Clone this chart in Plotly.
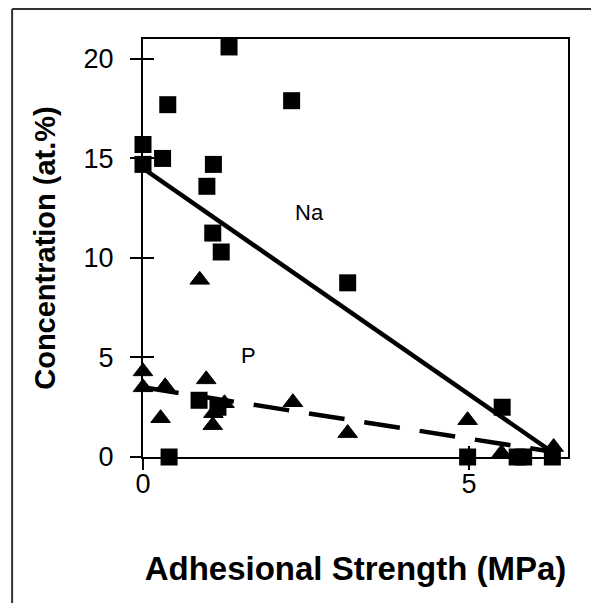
import plotly.graph_objects as go

# Sodium concentration (squares) vs adhesional strength
na_x = [0.0, 0.0, 0.30, 0.38, 0.40, 0.86, 0.98, 1.07, 1.08, 1.15, 1.20, 1.32, 2.28, 3.14,
        4.98, 5.51, 5.74, 5.84, 6.28]
na_y = [15.7, 14.7, 15.0, 17.7, 0.0, 2.85, 13.6, 11.25, 14.7, 2.5, 10.3, 20.6, 17.9, 8.75,
        0.0, 2.5, 0.0, 0.0, 0.0]

# Phosphorus concentration (triangles) vs adhesional strength
p_x = [0.0, 0.0, 0.27, 0.34, 0.87, 0.97, 1.07, 1.08, 1.25, 2.30, 3.14, 4.98, 5.50, 6.30]
p_y = [4.3, 3.5, 1.95, 3.55, 8.9, 3.9, 1.6, 2.2, 2.7, 2.75, 1.2, 1.85, 0.2, 0.5]

# Linear trend lines
na_fit_x = [0.0, 6.3]
na_fit_y = [14.5, 0.2]
p_fit_x = [0.0, 6.3]
p_fit_y = [3.5, 0.25]

x_ticks = [0, 5]
y_ticks = [0, 5, 10, 15, 20]

X_RANGE = [0, 6.52]
Y_RANGE = [0, 21]

FONT = "Liberation Sans, Arial, sans-serif"

fig = go.Figure()

fig.add_trace(go.Scatter(
    x=na_fit_x, y=na_fit_y, mode="lines",
    line=dict(color="black", width=4.5), showlegend=False, hoverinfo="skip"))
fig.add_trace(go.Scatter(
    x=p_fit_x, y=p_fit_y, mode="lines",
    line=dict(color="black", width=4.5, dash="36px,20px"), showlegend=False, hoverinfo="skip"))
fig.add_trace(go.Scatter(
    x=na_x, y=na_y, mode="markers", name="Na",
    marker=dict(symbol="square", size=17, color="black"), showlegend=False, cliponaxis=False))
fig.add_trace(go.Scatter(
    x=p_x, y=p_y, mode="markers", name="P",
    marker=dict(symbol="triangle-up", size=17, color="black",
                line=dict(color="black", width=1)),
    showlegend=False, cliponaxis=False))
# carrier trace for the inner tick axes
fig.add_trace(go.Scatter(x=[None], y=[None], xaxis="x2", yaxis="y2",
                         showlegend=False, hoverinfo="skip"))

tick_common = dict(showgrid=False, zeroline=False, tickcolor="black", tickwidth=2, ticklen=11)
axis_common = dict(linecolor="black", linewidth=2, **tick_common)

fig.update_layout(
    width=591, height=603,
    margin=dict(l=143, r=23, t=39, b=146),
    paper_bgcolor="white", plot_bgcolor="white",
    font=dict(family=FONT, color="black"),
    xaxis=dict(range=X_RANGE, tickvals=x_ticks, ticks="outside", showline=True, mirror=True,
               tickfont=dict(size=27), ticklabelstandoff=-9,
               title=dict(text="<b>Adhesional Strength (MPa)</b>", font=dict(size=33),
                          standoff=58),
               **axis_common),
    yaxis=dict(range=Y_RANGE, tickvals=y_ticks, ticks="outside", showline=True, mirror=True,
               tickfont=dict(size=27), ticklabelstandoff=11,
               title=dict(text="<b>Concentration (at.%)</b>", font=dict(size=29),
                          standoff=19),
               **axis_common),
    xaxis2=dict(range=X_RANGE, tickvals=x_ticks, ticks="inside", overlaying="x",
                showticklabels=False, showline=False, **tick_common),
    yaxis2=dict(range=Y_RANGE, tickvals=y_ticks, ticks="inside", overlaying="y",
                showticklabels=False, showline=False, **tick_common),
    annotations=[
        dict(x=2.55, y=12.3, text="Na", showarrow=False, font=dict(size=22)),
        dict(x=1.62, y=5.1, text="P", showarrow=False, font=dict(size=22)),
    ],
    shapes=[
        # figure frame (left and top edges)
        dict(type="line", xref="paper", yref="paper", x0=-0.308, x1=-0.308, y0=1.072, y1=-0.36,
             line=dict(color="#333333", width=2)),
        dict(type="line", xref="paper", yref="paper", x0=-0.308, x1=1.06, y0=1.072, y1=1.072,
             line=dict(color="#333333", width=2)),
    ],
)

fig.write_html("out.html")
